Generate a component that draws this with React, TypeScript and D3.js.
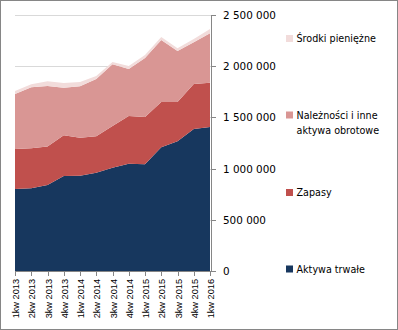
import React from "react";
import * as d3 from "d3";

const categories = [
  "1kw 2013", "2kw 2013", "3kw 2013", "4kw 2013",
  "1kw 2014", "2kw 2014", "3kw 2014", "4kw 2014",
  "1kw 2015", "2kw 2015", "3kw 2015", "4kw 2015",
  "1kw 2016",
];
const seriesNames = ["Aktywa trwałe", "Zapasy", "Należności i inne aktywa obrotowe", "Środki pieniężne"];
const aktywaTrwale = [800000, 807000, 840000, 928000, 931000, 960000, 1009000, 1048000, 1042000, 1208000, 1266000, 1387000, 1406000];
const zapasy = [391000, 391000, 377000, 397000, 371000, 355000, 407000, 466000, 462000, 442000, 384000, 439000, 433000];
const naleznosci = [537000, 596000, 590000, 465000, 502000, 560000, 602000, 459000, 576000, 606000, 498000, 407000, 482000];
const srodki = [30000, 29000, 46000, 46000, 42000, 29000, 23000, 29000, 29000, 29000, 27000, 33000, 42000];
const yTicks = [0, 500000, 1000000, 1500000, 2000000, 2500000];

const colors = ["#17375E", "#C0504D", "#D99694", "#F2DCDB"];

export default function App() {
  const W = 398, H = 330;
  const x = d3.scalePoint<string>().domain(categories).range([15, 210]);
  const y = d3.scaleLinear().domain([0, 2500000]).range([271, 15]);
  const rows = categories.map((c, i) => ({
    cat: c,
    s0: aktywaTrwale[i],
    s1: zapasy[i],
    s2: naleznosci[i],
    s3: srodki[i],
  }));
  const stack = d3.stack<any>().keys(["s0", "s1", "s2", "s3"]);
  const layers = stack(rows);
  const area = d3
    .area<any>()
    .x((d) => x(d.data.cat) as number)
    .y0((d) => y(d[0]))
    .y1((d) => y(d[1]));
  const fmt = d3.formatLocale({ decimal: ",", thousands: " ", grouping: [3], currency: ["", ""] }).format(",d");
  const axisColor = "#868686";
  const axisX = 211;

  const legend = [
    { idx: 3, lines: ["Środki pieniężne"], sq: 38.5 },
    { idx: 2, lines: ["Należności i inne", "aktywa obrotowe"], sq: 115 },
    { idx: 1, lines: ["Zapasy"], sq: 192.5 },
    { idx: 0, lines: ["Aktywa trwałe"], sq: 269 },
  ];

  return (
    <svg width={W} height={H} style={{ position: "absolute", left: 0, top: 0, background: "#fff" }}>
      <rect x={0.5} y={0.5} width={W - 1} height={H - 1} fill="#fff" stroke={axisColor} />
      {yTicks.slice(1).map((t) => (
        <line key={t} x1={15} x2={axisX} y1={Math.round(y(t)) + 0.5} y2={Math.round(y(t)) + 0.5} stroke="#D9D9D9" />
      ))}
      {layers.map((l, i) => (
        <path key={i} d={area(l as any) || ""} fill={colors[i]} />
      ))}
      {/* x axis */}
      <line x1={15} x2={axisX} y1={271.5} y2={271.5} stroke={axisColor} />
      {categories.map((c) => {
        const px = Math.round(x(c) as number) + 0.5;
        return (
          <g key={c}>
            <line x1={px} x2={px} y1={271} y2={276} stroke={axisColor} />
            <text
              transform={`translate(${px + 3.5},279) rotate(-90)`}
              textAnchor="end"
              fontFamily="Liberation Sans, Arial, sans-serif"
              fontSize={9.2}
              fill="#000"
            >
              {c}
            </text>
          </g>
        );
      })}
      {/* y axis on right */}
      <line x1={axisX + 0.5} x2={axisX + 0.5} y1={15} y2={271.5} stroke={axisColor} />
      {yTicks.map((t) => {
        const py = Math.round(y(t)) + 0.5;
        return (
          <g key={t}>
            <line x1={axisX} x2={axisX + 5} y1={py} y2={py} stroke={axisColor} />
            <text x={223} y={py + 3.8} fontFamily="DejaVu Sans, sans-serif" fontSize={10.4} fill="#000">
              {fmt(t)}
            </text>
          </g>
        );
      })}
      {legend.map((g) => (
        <g key={g.idx}>
          <rect x={286} y={g.sq - 3.5} width={7} height={7} fill={colors[g.idx]} />
          {g.lines.map((ln, j) => (
            <text
              key={j}
              x={296.5}
              y={g.sq + 3.5 + j * 15}
              fontFamily="DejaVu Sans, sans-serif"
              fontSize={9.6}
              fill="#000"
            >
              {ln}
            </text>
          ))}
        </g>
      ))}
    </svg>
  );
}
